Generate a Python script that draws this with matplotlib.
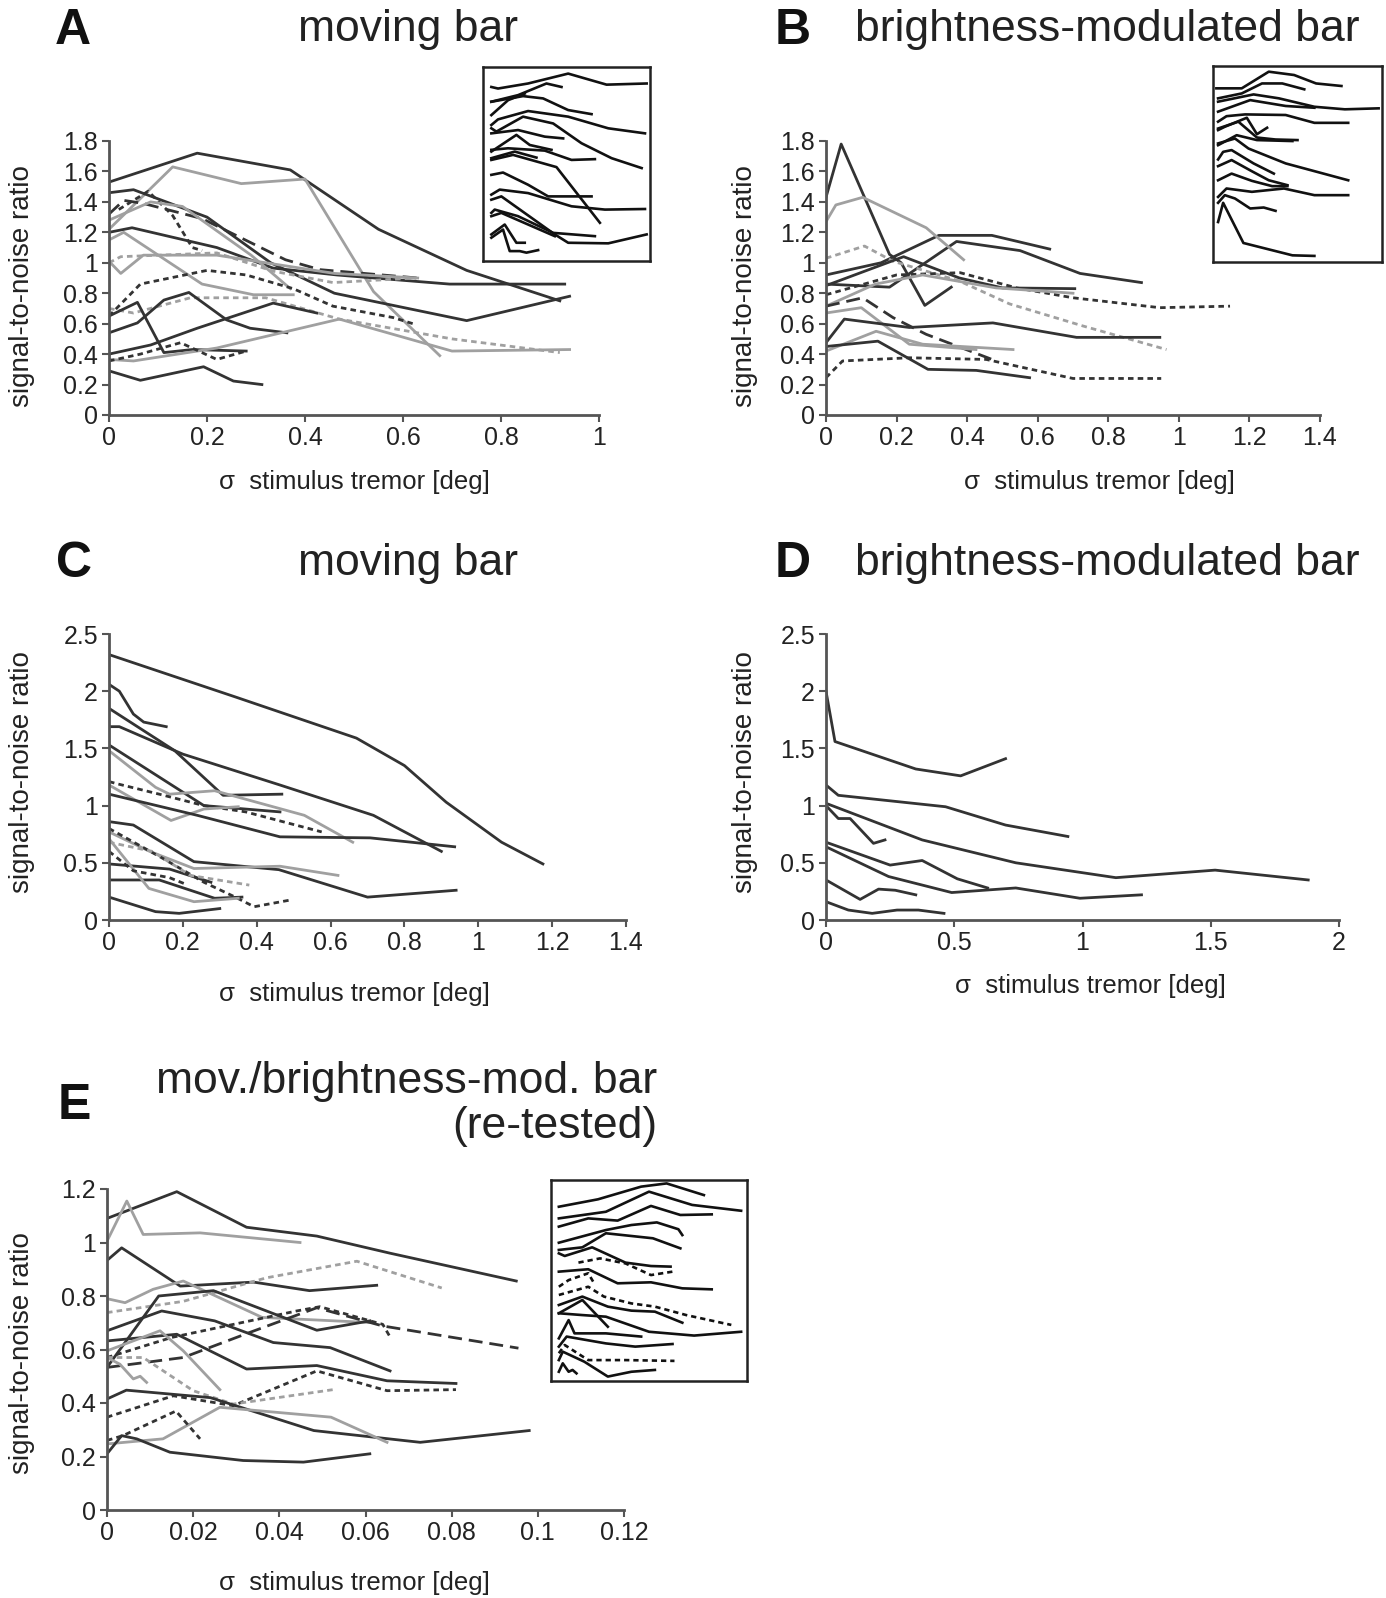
import numpy as np
import matplotlib
matplotlib.use("Agg")
import matplotlib.pyplot as plt

plt.rcParams["font.family"] = ["Liberation Sans", "DejaVu Sans"]

# ---------------- data ----------------
# panel A: moving bar
A_x = [
    [0, 0.18, 0.37, 0.55, 0.73, 0.92],
    [0, 0.13, 0.27, 0.40, 0.54, 0.675],
    [0, 0.05, 0.2, 0.33, 0.46, 0.73, 0.94],
    [0, 0.03, 0.07, 0.19, 0.36, 0.43, 0.63],
    [0.02, 0.08, 0.13, 0.17, 0.19],
    [0, 0.047, 0.22, 0.335, 0.465, 0.695, 0.93],
    [0, 0.024, 0.22, 0.335, 0.457, 0.627],
    [0, 0.024, 0.07, 0.22, 0.46, 0.63],
    [0, 0.03, 0.19, 0.295, 0.376],
    [0, 0.085, 0.15, 0.29, 0.37],
    [0, 0.064, 0.2, 0.28, 0.376, 0.457, 0.58, 0.62],
    [0, 0.05, 0.166, 0.32, 0.47, 0.7, 0.92],
    [0, 0.058, 0.112, 0.17, 0.28],
    [0, 0.058, 0.112, 0.163, 0.24, 0.288, 0.363],
    [0, 0.085, 0.18, 0.335, 0.424],
    [0, 0.05, 0.22, 0.47, 0.7, 0.94],
    [0, 0.064, 0.146, 0.22, 0.28],
    [0, 0.064, 0.193, 0.254, 0.312],
]
A_y = [
    [1.53, 1.72, 1.61, 1.22, 0.95, 0.75],
    [1.22, 1.63, 1.52, 1.55, 0.81, 0.39],
    [1.46, 1.48, 1.3, 1.0, 0.8, 0.62, 0.78],
    [1.32, 1.41, 1.39, 1.29, 1.02, 0.955, 0.9],
    [1.35, 1.47, 1.31, 1.1, 1.08],
    [1.2, 1.23, 1.1, 0.965, 0.92, 0.86, 0.86],
    [1.0, 1.04, 1.065, 0.945, 0.87, 0.9],
    [1.01, 0.93, 1.05, 1.05, 0.93, 0.9],
    [1.15, 1.2, 0.86, 0.79, 0.79],
    [1.28, 1.4, 1.37, 1.05, 0.83],
    [0.65, 0.86, 0.95, 0.92, 0.83, 0.715, 0.64, 0.6],
    [0.7, 0.67, 0.77, 0.77, 0.63, 0.5, 0.41],
    [0.65, 0.74, 0.41, 0.43, 0.42],
    [0.54, 0.605, 0.755, 0.805, 0.625, 0.57, 0.54],
    [0.4, 0.46, 0.57, 0.735, 0.67],
    [0.365, 0.355, 0.44, 0.63, 0.42, 0.43],
    [0.355, 0.4, 0.475, 0.365, 0.42],
    [0.29, 0.228, 0.317, 0.223, 0.2],
]
A_kind = ["k", "g", "k", "k--", "k:", "k", "g:", "g", "g", "g",
          "k:", "g:", "k", "k", "k", "g", "k:", "k"]

# panel B: brightness-modulated bar
B_x = [
    [0, 0.043, 0.18, 0.213, 0.28, 0.355],
    [0, 0.18, 0.37, 0.55, 0.72, 0.894],
    [0, 0.156, 0.32, 0.47, 0.634],
    [0, 0.028, 0.104, 0.284, 0.39],
    [0, 0.109, 0.19, 0.378, 0.52, 0.728, 0.965],
    [0, 0.2, 0.38, 0.54, 0.7, 0.946, 1.145],
    [0, 0.22, 0.378, 0.5, 0.705],
    [0, 0.14, 0.274, 0.482, 0.7],
    [0, 0.104, 0.19, 0.284, 0.482],
    [0, 0.1, 0.236, 0.425],
    [0, 0.052, 0.236, 0.473, 0.71, 0.946],
    [0, 0.142, 0.274, 0.53],
    [0, 0.147, 0.289, 0.426, 0.577],
    [0, 0.047, 0.236, 0.454, 0.7, 0.95],
]
B_y = [
    [1.43, 1.78, 1.055, 1.0, 0.72, 0.84],
    [0.86, 0.84, 1.14, 1.08, 0.93, 0.87],
    [0.92, 1.0, 1.18, 1.18, 1.09],
    [1.27, 1.38, 1.43, 1.23, 1.02],
    [1.03, 1.11, 1.01, 0.88, 0.73, 0.585, 0.43],
    [0.79, 0.92, 0.935, 0.835, 0.77, 0.705, 0.715],
    [0.85, 1.04, 0.9, 0.835, 0.83],
    [0.715, 0.86, 0.92, 0.835, 0.8],
    [0.715, 0.77, 0.64, 0.53, 0.355],
    [0.67, 0.705, 0.465, 0.43],
    [0.475, 0.63, 0.575, 0.605, 0.51, 0.51],
    [0.42, 0.55, 0.465, 0.43],
    [0.45, 0.485, 0.3, 0.293, 0.245],
    [0.245, 0.355, 0.376, 0.365, 0.24, 0.24],
]
B_kind = ["k", "k", "k", "g", "g:", "k:", "k", "g", "k--", "g",
          "k", "g", "k", "k:"]

# panel C: moving bar
C_x = [
    [0, 0.342, 0.67, 0.8, 0.913, 1.063, 1.175],
    [0, 0.028, 0.066, 0.094, 0.155],
    [0, 0.178, 0.309, 0.468],
    [0, 0.028, 0.2, 0.463, 0.716, 0.9],
    [0, 0.257, 0.463],
    [0, 0.126, 0.164, 0.286, 0.529, 0.66],
    [0, 0.023, 0.136, 0.257, 0.37, 0.576],
    [0, 0.168, 0.257, 0.35],
    [0, 0.239, 0.463, 0.707, 0.936],
    [0, 0.066, 0.23, 0.46, 0.7, 0.94],
    [0, 0.11, 0.23, 0.463, 0.62],
    [0, 0.164, 0.276],
    [0, 0.136, 0.286, 0.36],
    [0, 0.145, 0.257, 0.342, 0.393, 0.49],
    [0, 0.117, 0.22, 0.38],
    [0, 0.108, 0.23, 0.35],
    [0, 0.126, 0.19, 0.3],
    [0, 0.066, 0.164, 0.21],
]
C_y = [
    [2.32, 1.95, 1.59, 1.35, 1.03, 0.68, 0.49],
    [2.06, 2.0, 1.8, 1.73, 1.69],
    [1.85, 1.48, 1.09, 1.1],
    [1.69, 1.69, 1.45, 1.18, 0.915, 0.6],
    [1.53, 1.0, 0.945],
    [1.48, 1.16, 1.1, 1.13, 0.915, 0.68],
    [1.21, 1.19, 1.1, 1.0, 0.945, 0.77],
    [1.18, 0.87, 0.97, 0.99],
    [1.1, 0.915, 0.727, 0.718, 0.64],
    [0.86, 0.83, 0.51, 0.44, 0.2, 0.26],
    [0.77, 0.6, 0.45, 0.47, 0.39],
    [0.49, 0.445, 0.33],
    [0.35, 0.35, 0.19, 0.2],
    [0.8, 0.54, 0.33, 0.2, 0.116, 0.174],
    [0.68, 0.6, 0.39, 0.305],
    [0.71, 0.276, 0.16, 0.19],
    [0.2, 0.073, 0.058, 0.1],
    [0.6, 0.43, 0.37, 0.31],
]
C_kind = ["k", "k", "k", "k", "k", "g", "k:", "g", "k", "k",
          "g", "k", "k", "k:", "g:", "g", "k", "k:"]

# panel D: brightness-modulated bar
D_x = [
    [0, 0.035, 0.35, 0.525, 0.7],
    [0, 0.048, 0.466, 0.7, 0.943],
    [0, 0.375, 0.74, 1.13, 1.517, 1.88],
    [0, 0.048, 0.094, 0.185, 0.23],
    [0, 0.25, 0.375, 0.512, 0.63],
    [0, 0.244, 0.49, 0.74, 0.99, 1.23],
    [0, 0.133, 0.205, 0.27, 0.35],
    [0, 0.087, 0.18, 0.277, 0.36, 0.46],
]
D_y = [
    [2.0, 1.56, 1.32, 1.26, 1.41],
    [1.18, 1.09, 0.99, 0.83, 0.73],
    [1.02, 0.7, 0.5, 0.37, 0.436, 0.35],
    [1.0, 0.887, 0.887, 0.67, 0.7],
    [0.68, 0.48, 0.52, 0.36, 0.28],
    [0.64, 0.38, 0.24, 0.28, 0.19, 0.22],
    [0.35, 0.18, 0.27, 0.26, 0.22],
    [0.16, 0.087, 0.058, 0.087, 0.087, 0.058],
]
D_kind = ["k"] * 8

# panel E: re-tested
E_x = [
    [0, 0.0162, 0.0324, 0.0487, 0.0657, 0.095],
    [0, 0.0046, 0.0084, 0.0216, 0.0448],
    [0, 0.0034, 0.017, 0.034, 0.047, 0.0626],
    [0, 0.0177, 0.037, 0.058, 0.0777],
    [0, 0.0042, 0.0107, 0.0177, 0.036, 0.062],
    [0, 0.012, 0.0247, 0.0487, 0.061],
    [0, 0.0127, 0.025, 0.0386, 0.0518, 0.0657],
    [0, 0.015, 0.044, 0.0494, 0.064, 0.0657],
    [0, 0.0177, 0.033, 0.0487, 0.064, 0.0955],
    [0, 0.0162, 0.0324, 0.0487, 0.065, 0.081],
    [0, 0.0154, 0.0293, 0.0487, 0.065, 0.081],
    [0, 0.0123, 0.0177, 0.0262],
    [0, 0.0084, 0.02, 0.0293, 0.0525],
    [0, 0.003, 0.0061, 0.0077, 0.0092],
    [0, 0.0045, 0.024, 0.048, 0.0727, 0.098],
    [0, 0.013, 0.0262, 0.052, 0.065],
    [0, 0.0037, 0.016, 0.0216],
    [0, 0.0034, 0.0069, 0.0146, 0.0316, 0.0456, 0.061],
]
E_y = [
    [1.09, 1.19, 1.057, 1.024, 0.96, 0.856],
    [1.005, 1.155, 1.03, 1.036, 1.0],
    [0.933, 0.98, 0.837, 0.852, 0.82, 0.84],
    [0.738, 0.78, 0.868, 0.93, 0.83],
    [0.79, 0.775, 0.825, 0.856, 0.72, 0.7],
    [0.533, 0.8, 0.82, 0.672, 0.707],
    [0.67, 0.744, 0.707, 0.626, 0.607, 0.52],
    [0.57, 0.645, 0.744, 0.76, 0.694, 0.647],
    [0.533, 0.57, 0.663, 0.756, 0.688, 0.605],
    [0.632, 0.657, 0.527, 0.54, 0.483, 0.473],
    [0.347, 0.427, 0.39, 0.52, 0.446, 0.45],
    [0.595, 0.67, 0.595, 0.45],
    [0.57, 0.57, 0.446, 0.396, 0.45],
    [0.57, 0.545, 0.49, 0.5, 0.477],
    [0.415, 0.448, 0.42, 0.297, 0.253, 0.297],
    [0.247, 0.266, 0.384, 0.347, 0.253],
    [0.26, 0.278, 0.37, 0.266],
    [0.21, 0.278, 0.266, 0.216, 0.185, 0.179, 0.21],
]
E_kind = ["k", "g", "k", "g:", "g", "k", "k", "k:", "k--", "k",
          "k:", "g", "g:", "g", "k", "g", "k:", "k"]

# insets (percent of inset box)
insA_u = [
    [5, 9, 27, 51, 74, 98], [5, 21, 38, 47], [5, 24, 36, 51, 65], [5, 15, 25],
    [5, 9, 27, 51, 75, 97], [5, 8, 24, 42, 59, 77, 95], [5, 21, 37, 48],
    [5, 20, 28, 41], [5, 15, 37, 53, 67], [5, 19, 32], [5, 18, 44, 70],
    [5, 12, 27, 39, 65], [5, 10, 27, 53, 73, 97], [5, 11, 43, 51, 75, 98],
    [5, 7, 21, 42, 67], [5, 11, 43], [5, 13, 20, 25], [5, 12, 16, 22, 26, 33],
]
insA_v = [
    [89.7, 88.9, 91.5, 96.6, 90.9, 91.5], [82.1, 85.5, 91.5, 89.7],
    [82.1, 85.0, 83.8, 77.8, 75.7], [75.2, 82.9, 86.3],
    [70.1, 73.0, 77.3, 74.4, 68.4, 65.8], [68.4, 66.7, 74.4, 70.9, 60.7, 53.0, 47.9],
    [65.8, 67.5, 64.1, 63.2], [56.4, 65.0, 59.8, 57.3],
    [57.3, 58.1, 56.9, 52.1, 52.5], [53.0, 56.4, 53.3], [52.1, 54.7, 48.4, 19.7],
    [44.4, 45.6, 39.3, 33.3, 33.3], [34.2, 36.8, 35.0, 28.2, 26.5, 26.8],
    [31.6, 33.3, 13.7, 9.4, 9.1, 13.7], [24.8, 26.5, 23.1, 14.5, 12.8],
    [23.1, 24.8, 12.8], [13.7, 18.8, 9.4, 9.4], [12.0, 16.2, 5.1, 5.1, 4.3, 5.6],
]
insB_u = [
    [2, 17, 33, 48, 61, 76], [3, 17, 29, 41, 54], [3, 24, 39, 60, 78, 98],
    [3, 22, 43, 60], [3, 8, 19, 43, 60, 80], [3, 7, 20, 26, 32],
    [3, 15, 26, 37, 50], [3, 14, 26, 47], [3, 13, 21, 43, 80],
    [3, 6, 11, 24, 36], [3, 11, 23, 33, 44], [3, 11, 23, 35, 44],
    [3, 8, 23, 42, 60, 80], [3, 7, 13, 22, 30, 37], [3, 6, 18, 47, 60],
]
insB_v = [
    [88.6, 88.6, 97.1, 95.4, 91.1, 89.8], [83.5, 86.0, 91.1, 91.1, 88.1],
    [81.8, 85.5, 83.5, 79.2, 77.9, 78.4], [76.7, 82.6, 79.6, 78.7],
    [71.6, 74.4, 75.3, 75.0, 71.0, 71.0], [67.3, 69.0, 73.6, 65.2, 68.5],
    [68.1, 71.6, 63.5, 62.5, 62.2], [59.6, 64.7, 62.2, 61.7],
    [60.5, 63.0, 57.9, 50.3, 41.7], [52.3, 56.2, 57.1, 50.3, 45.1],
    [48.9, 52.0, 46.3, 41.7, 39.2], [41.7, 45.1, 41.4, 38.7, 38.7],
    [33.2, 37.5, 35.8, 37.5, 34.1, 34.1], [30.2, 34.1, 32.4, 27.3, 27.8, 26.1],
    [20.4, 30.2, 9.7, 3.4, 3.1],
]
insE_u = [
    [4, 24, 46, 59, 78], [4, 28, 50, 72, 97], [4, 19, 34, 51, 66, 82],
    [4, 28, 41, 54, 65, 67], [4, 16, 28, 52, 66], [4, 7, 21, 38, 51, 61],
    [14, 25, 38, 51, 62], [4, 19, 34, 51, 67, 82], [4, 9, 19, 22],
    [4, 19, 27, 41, 53, 69, 92], [4, 16, 29, 41, 53, 67], [4, 16, 29],
    [4, 16, 28, 50, 73, 97], [4, 9, 12, 28, 46], [4, 8, 28, 43, 62],
    [4, 7, 19, 38, 63], [4, 6, 17, 29, 41, 53], [4, 6, 9, 11, 13],
]
insE_v = [
    [86.7, 90.4, 96.7, 98.3, 92.5], [80.9, 84.2, 94.2, 87.6, 84.7],
    [76.8, 80.9, 79.8, 87.1, 82.6, 82.9], [68.8, 75.1, 77.6, 78.9, 75.5, 72.6],
    [65.2, 66.5, 73.5, 71.0, 66.0], [63.5, 62.2, 66.5, 58.9, 57.2, 56.9],
    [58.9, 61.0, 58.5, 52.7, 54.4], [54.4, 55.6, 48.6, 49.1, 46.1, 45.6],
    [46.9, 50.2, 53.6, 48.6], [42.8, 46.9, 42.0, 38.6, 37.0, 32.8, 27.9],
    [37.8, 42.0, 37.0, 35.0, 34.5, 29.0], [33.7, 40.3, 27.0],
    [33.7, 32.8, 32.0, 24.5, 22.6, 24.5], [21.2, 30.3, 23.7, 23.7, 22.1],
    [17.1, 22.1, 18.7, 17.1, 18.4], [13.8, 17.9, 10.4, 10.4, 10.0],
    [10.4, 14.6, 9.6, 2.2, 4.6, 5.5], [4.6, 8.8, 4.6, 5.5, 3.8],
]
insE_kind = ["k", "k", "k", "k", "k", "k", "k:", "k", "k:", "k:",
             "k", "k", "k", "k", "k", "k:", "k", "k"]

# ---------------- drawing ----------------
W, H = 1386, 1598
fig = plt.figure(figsize=(W / 100, H / 100), dpi=100)

DARK = "#333333"
GRAY = "#a0a0a0"
STYLES = {
    "k": dict(color=DARK, ls="-"),
    "g": dict(color=GRAY, ls="-"),
    "k:": dict(color=DARK, ls=(0, (2.0, 1.5))),
    "g:": dict(color=GRAY, ls=(0, (2.0, 1.5))),
    "k--": dict(color=DARK, ls=(0, (5, 2.5))),
}


def px_axes(x0, y0, x1, y1):
    return fig.add_axes([x0 / W, 1 - y1 / H, (x1 - x0) / W, (y1 - y0) / H])


def ftext(x, y, s, **kw):
    fig.text(x / W, 1 - y / H, s, **kw)


def panel(box, xs, ys, kinds, xlim, ylim, xstep, ystep):
    ax = px_axes(*box)
    for x, y, k in zip(xs, ys, kinds):
        ax.plot(x, y, lw=2.0, **STYLES[k])
    ax.set_xlim(*xlim)
    ax.set_ylim(*ylim)
    ax.set_xticks(np.round(np.arange(xlim[0], xlim[1] + xstep / 2, xstep), 4))
    ax.set_yticks(np.round(np.arange(ylim[0], ylim[1] + ystep / 2, ystep), 4))
    ax.xaxis.set_major_formatter(plt.FormatStrFormatter("%g"))
    ax.yaxis.set_major_formatter(plt.FormatStrFormatter("%g"))
    for s in ["top", "right"]:
        ax.spines[s].set_visible(False)
    for s in ["left", "bottom"]:
        ax.spines[s].set_color("#555555")
        ax.spines[s].set_linewidth(2)
    ax.tick_params(direction="out", length=5, width=1.5, color="#555555",
                   labelsize=18, labelcolor="#222222", pad=3)
    return ax


def inset(box, us, vs, kinds):
    ax = px_axes(*box)
    for u, v, k in zip(us, vs, kinds):
        st = dict(STYLES[k])
        st["color"] = "#111111"
        ax.plot(u, v, lw=1.9, **st)
    ax.set_xlim(0, 100)
    ax.set_ylim(0, 100)
    ax.set_xticks([])
    ax.set_yticks([])
    for s in ax.spines.values():
        s.set_linewidth(1.8)
        s.set_color("#222222")


panel((109, 141, 599, 415), A_x, A_y, A_kind, (0, 1), (0, 1.8), 0.2, 0.2)
panel((826, 141, 1320, 415), B_x, B_y, B_kind, (0, 1.4), (0, 1.8), 0.2, 0.2)
panel((109, 634, 626, 920), C_x, C_y, C_kind, (0, 1.4), (0, 2.5), 0.2, 0.5)
panel((826, 634, 1339, 920), D_x, D_y, D_kind, (0, 2), (0, 2.5), 0.5, 0.5)
panel((107, 1189, 624, 1510), E_x, E_y, E_kind, (0, 0.12), (0, 1.2), 0.02, 0.2)

inset((483, 67, 650, 261), insA_u, insA_v, ["k"] * len(insA_u))
inset((1213, 66, 1382, 262), insB_u, insB_v, ["k"] * len(insB_u))
inset((551, 1180, 747, 1381), insE_u, insE_v, insE_kind)

# titles and panel letters
tkw = dict(fontsize=32, color="#222222", ha="center", va="center")
ftext(408, 29, "moving bar", **tkw)
ftext(1107, 29, "brightness-modulated bar", **tkw)
ftext(408, 563, "moving bar", **tkw)
ftext(1107, 563, "brightness-modulated bar", **tkw)
ftext(657, 1104, "mov./brightness-mod. bar\n(re-tested)", fontsize=32,
      color="#222222", ha="right", va="center", multialignment="right",
      linespacing=1.1)

lkw = dict(fontsize=36, fontweight="bold", color="#111111", ha="center",
           va="center")
ftext(73, 31, "A", **lkw)
ftext(793, 31, "B", **lkw)
ftext(74, 564, "C", **lkw)
ftext(793, 564, "D", **lkw)
ftext(74, 1106, "E", **lkw)

# axis labels
xl = "\u03c3  stimulus tremor [deg]"
akw = dict(fontsize=18.5, color="#222222", ha="center", va="center")
ykw = dict(fontsize=20, color="#222222", ha="center", va="center", rotation=90)
ftext(354, 482, xl, **akw)
ftext(1099, 482, xl, **akw)
ftext(354, 994, xl, **akw)
ftext(1090, 986, xl, **akw)
ftext(354, 1583, xl, **akw)

yl = "signal-to-noise ratio"
ftext(22, 286, yl, **ykw)
ftext(745, 286, yl, **ykw)
ftext(22, 772, yl, **ykw)
ftext(745, 772, yl, **ykw)
ftext(22, 1353, yl, **ykw)

fig.savefig("out.png", dpi=100)
